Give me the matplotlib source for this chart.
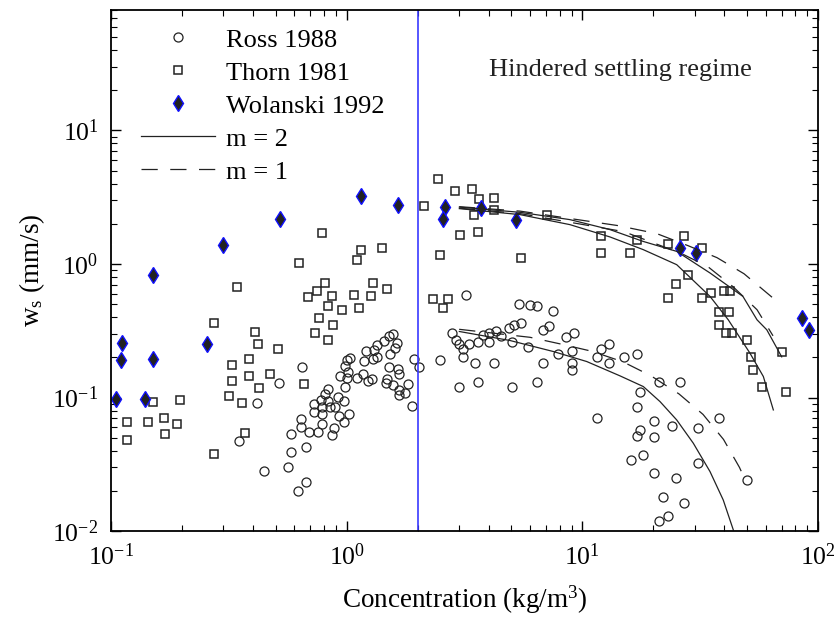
import matplotlib
matplotlib.use("Agg")
import matplotlib.pyplot as plt

plt.rcParams["font.family"] = ["Liberation Serif", "DejaVu Serif"]
plt.rcParams["mathtext.fontset"] = "custom"
plt.rcParams["mathtext.rm"] = "Liberation Serif"
plt.rcParams["mathtext.it"] = "Liberation Serif:italic"

# --- data (concentration kg/m3, settling velocity mm/s) ---
ross_c = [0.349, 0.418, 0.446, 0.515, 0.562, 0.579, 0.583, 0.622, 0.644, 0.640,
          0.642, 0.672, 0.672, 0.694, 0.729, 0.729, 0.758, 0.776, 0.782, 0.786,
          0.786, 0.809, 0.829, 0.835, 0.846, 0.879, 0.866, 0.895, 0.921, 0.923,
          0.941, 0.972, 0.974, 0.981, 0.979, 1.001, 1.006, 1.010, 1.028, 1.026,
          1.103, 1.176, 1.179, 1.202, 1.237, 1.284, 1.287, 1.302, 1.342, 1.349,
          1.443, 1.508, 1.577, 1.640, 1.603, 1.532, 1.512, 1.483, 1.468, 1.643,
          1.671, 1.572, 1.663, 1.664, 1.759, 1.826, 1.884, 1.934, 2.017, 2.489,
          2.804, 2.90, 2.997, 3.107, 3.107, 3.311, 2.997, 3.513, 3.607, 3.614,
          3.80, 4.018, 4.018, 4.313, 4.516, 4.217, 4.898, 5.129, 5.508, 5.013,
          5.013, 5.897, 6.42, 6.82, 6.83, 7.22, 7.91, 8.50, 9.19, 9.01,
          9.01, 9.01, 11.5, 12.03, 13.01, 13.01, 11.54, 3.208, 5.395, 5.995,
          6.41, 7.51, 15.02, 17.05, 21.04, 26.03, 17.52, 17.02, 20.04, 24.05,
          31.0, 38.07, 17.56, 17.05, 20.04, 18.05, 16.04, 31.0, 20.04, 25.03,
          50.06, 22.05, 27.07, 23.04, 21.04]
ross_w = [0.0473, 0.0907, 0.0282, 0.1295, 0.0304, 0.0531, 0.0389, 0.0201, 0.170, 0.0696,
          0.0603, 0.0427, 0.0232, 0.0548, 0.0892, 0.0777, 0.0555, 0.0952, 0.0632, 0.0752,
          0.0847, 0.1056, 0.1158, 0.0939, 0.0844, 0.0594, 0.0522, 0.0856, 0.1017, 0.0726,
          0.1446, 0.0947, 0.0659, 0.1206, 0.1728, 0.1917, 0.140, 0.1566, 0.1995, 0.0754,
          0.1393, 0.1513, 0.1874, 0.222, 0.1338, 0.138, 0.1933, 0.228, 0.203, 0.248,
          0.2675, 0.290, 0.299, 0.258, 0.2366, 0.2137, 0.1707, 0.1376, 0.1295, 0.1635,
          0.1505, 0.1238, 0.1148, 0.1043, 0.1084, 0.1259, 0.0869, 0.194, 0.1704, 0.1917,
          0.304, 0.2707, 0.2497, 0.2306, 0.2026, 0.2514, 0.1209, 0.181, 0.1311, 0.2624,
          0.2926, 0.2624, 0.304, 0.3146, 0.289, 0.181, 0.333, 0.352, 0.363, 0.2624,
          0.1209, 0.241, 0.1311, 0.181, 0.3217, 0.3436, 0.2118, 0.2837, 0.302, 0.222,
          0.181, 0.1613, 0.203, 0.231, 0.2505, 0.181, 0.0702, 0.584, 0.502, 0.494,
          0.4845, 0.443, 0.2018, 0.2115, 0.1306, 0.1306, 0.1109, 0.0856, 0.0666, 0.0613,
          0.0594, 0.0702, 0.0575, 0.0516, 0.0503, 0.0374, 0.0342, 0.0322, 0.0271, 0.0252,
          0.0241, 0.0181, 0.0161, 0.0130, 0.0120]

thorn_c = [0.1173, 0.1173, 0.1439, 0.1503, 0.168, 0.1695, 0.1905, 0.1957, 0.274, 0.274,
           0.316, 0.325, 0.326, 0.342, 0.361, 0.3685, 0.386, 0.386, 0.408, 0.420,
           0.4225, 0.473, 0.509, 0.628, 0.657, 0.685, 0.732, 0.748, 0.7615, 0.786,
           0.8115, 0.829, 0.8356, 0.862, 0.872, 0.9506, 1.076, 1.101, 1.126, 1.15,
           1.262, 1.296, 1.415, 1.476, 2.135, 2.324, 2.447, 2.495, 2.57, 2.683,
           2.89, 3.026, 3.40, 3.478, 3.617, 3.632, 4.217, 4.217, 5.508, 7.10,
           12.0, 12.0, 16.0, 17.09, 23.02, 23.02, 25.03, 27.07, 27.98, 32.08,
           32.08, 35.08, 39.82, 42.23, 37.99, 42.02, 37.99, 40.8, 43.23, 49.95,
           51.94, 53.08, 58.1, 70.1, 73.1]
thorn_w = [0.0654, 0.0481, 0.0654, 0.0928, 0.0704, 0.0537, 0.0635, 0.0966, 0.361, 0.0375,
           0.1029, 0.1334, 0.1758, 0.673, 0.0907, 0.0543, 0.196, 0.146, 0.309, 0.2526,
           0.1182, 0.1513, 0.2317, 1.018, 0.1266, 0.569, 0.3066, 0.626, 0.3925, 1.709,
           0.721, 0.4845, 0.2694, 0.574, 0.3466, 0.452, 0.587, 1.081, 0.468, 1.281,
           0.576, 0.716, 1.308, 0.655, 2.725, 0.551, 4.365, 1.175, 0.465, 0.5495,
           3.506, 1.64, 3.66, 2.344, 1.733, 3.09, 3.128, 2.526, 1.112, 2.336,
           1.612, 1.216, 1.216, 1.522, 1.416, 0.559, 0.7085, 1.623, 0.8275, 1.319,
           0.559, 0.6075, 0.6235, 0.6235, 0.4355, 0.4355, 0.352, 0.304, 0.304, 0.2707,
           0.2026, 0.1613, 0.1209, 0.2212, 0.1109]

wolanski_c = [0.105, 0.111, 0.110, 0.140, 0.150, 0.150, 0.256, 0.300, 0.521, 1.15,
              1.646, 2.614, 2.57, 3.70, 5.21, 26.0, 30.2, 85.3, 91.8]
wolanski_w = [0.0977, 0.257, 0.192, 0.0977, 0.195, 0.832, 0.253, 1.38, 2.19, 3.26,
              2.76, 2.68, 2.18, 2.62, 2.13, 1.32, 1.21, 0.395, 0.322]

# hindered settling curves (m = 2 solid, m = 1 dashed)
ross_m2_c = [3.005, 4.93, 7.53, 10.43, 14.44, 18.14, 21.35, 25.13, 29.56, 34.8, 39.6, 43.7]
ross_m2_w = [0.3125, 0.2675, 0.2212, 0.1862, 0.1454, 0.1209, 0.0933, 0.0680, 0.0455, 0.0279, 0.0171, 0.0102]
ross_m1_c = [3.0, 5.995, 8.2, 10.99, 14.87, 19.56, 25.7, 32.5, 39.7, 46.4, 48.0]
ross_m1_w = [0.3245, 0.2827, 0.2505, 0.222, 0.1852, 0.1454, 0.1065, 0.0748, 0.0486, 0.0300, 0.0263]

thorn_m2_c = [3.005, 5.44, 8.86, 13.1, 18.14, 25.13, 34.8, 41.6, 51.4, 58.6, 64.6]
thorn_m2_w = [2.60, 2.344, 1.972, 1.595, 1.281, 0.989, 0.572, 0.382, 0.2152, 0.1437, 0.0808]
thorn_m1_c = [3.0, 5.44, 15.0, 26.4, 34.1, 43.6, 55.1, 64.4]
thorn_m1_w = [2.62, 2.385, 1.748, 1.196, 0.955, 0.676, 0.4545, 0.290]

wol_m2_c = [3.005, 5.44, 8.86, 13.1, 18.09, 25.13, 34.8, 48.0, 55.1, 60.6, 70.1]
wol_m2_w = [2.668, 2.439, 2.15, 1.81, 1.478, 1.244, 0.857, 0.572, 0.382, 0.3217, 0.2018]
wol_m1_c = [3.0, 5.44, 14.16, 20.7, 28.06, 37.26, 48.5, 65.7]
wol_m1_w = [2.69, 2.49, 1.94, 1.689, 1.373, 1.116, 0.846, 0.540]

c_floc = 2.0  # start of the hindered settling regime

fig = plt.figure(figsize=(8.38, 6.19), dpi=100)
ax = fig.add_axes([0.1325, 0.142, 0.8437, 0.842])

line_kw = dict(color="#222222", lw=0.9)
dash_kw = dict(color="#222222", lw=0.9, ls=(0, (13, 10)))

ax.plot(ross_c, ross_w, "o", ms=6.5, mfc="none", mec="#222222", mew=0.9, label="Ross 1988")
ax.plot(thorn_c, thorn_w, "s", ms=5.3, mfc="none", mec="#222222", mew=1.1, label="Thorn 1981")
ax.plot(wolanski_c, wolanski_w, "d", ms=8, mfc="#222222", mec="#1010ff", mew=1.0,
        label="Wolanski 1992")
ax.plot(ross_m2_c, ross_m2_w, label="m = 2", **line_kw)
ax.plot(ross_m1_c, ross_m1_w, label="m = 1", **dash_kw)
ax.plot(thorn_m2_c, thorn_m2_w, **line_kw)
ax.plot(thorn_m1_c, thorn_m1_w, **dash_kw)
ax.plot(wol_m2_c, wol_m2_w, **line_kw)
ax.plot(wol_m1_c, wol_m1_w, **dash_kw)

ax.axvline(c_floc, color="#3a3aff", lw=1.2)

ax.set_xscale("log")
ax.set_yscale("log")
ax.set_xlim(0.1, 100)
ax.set_ylim(0.01, 80)

ax.tick_params(which="both", direction="in", top=True, right=True, labelsize=18.5, pad=9)
ax.tick_params(which="major", length=7, width=1.0)
ax.tick_params(which="minor", length=4, width=0.8)
for s in ax.spines.values():
    s.set_linewidth(1.3)

ax.set_xlabel(r"Concentration (kg/m$^3$)", fontsize=19.5, labelpad=10)
ax.set_ylabel(r"$\mathdefault{w_s}$ (mm/s)", fontsize=19.5, labelpad=4)

ax.text(0.721, 0.885, "Hindered settling regime", transform=ax.transAxes,
        ha="center", va="center", fontsize=19, color="#222222")

ax.legend(loc="upper left", bbox_to_anchor=(0.0424, 0.965), frameon=False, fontsize=19,
          handlelength=2.8, handletextpad=0.42, labelspacing=0.36, borderpad=0,
          borderaxespad=0, numpoints=1)

fig.savefig("out.png", dpi=100)
